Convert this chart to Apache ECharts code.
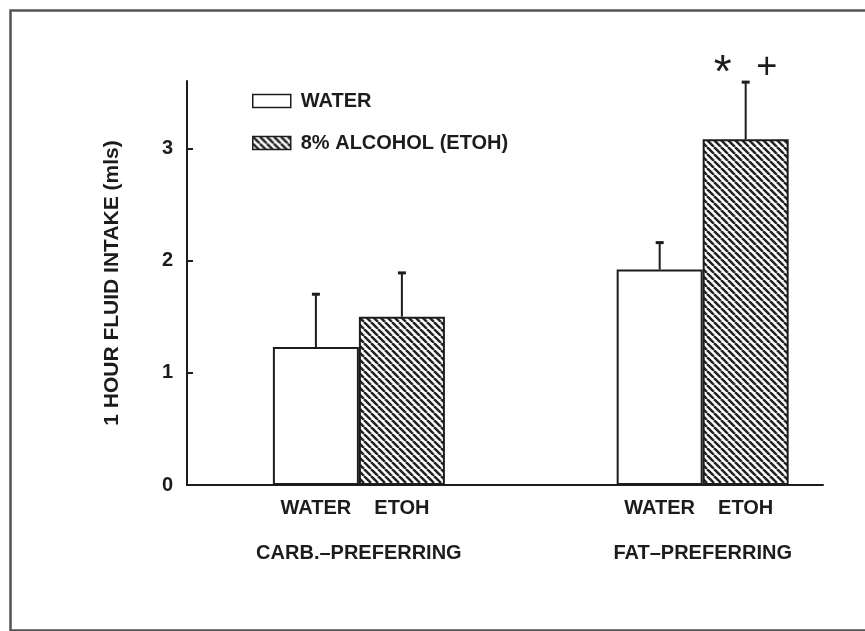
<!DOCTYPE html>
<html>
<head>
<meta charset="utf-8">
<script src="https://cdn.jsdelivr.net/npm/echarts@6/dist/echarts.min.js"></script>
<style>html,body{margin:0;padding:0;background:#fff;}#c{width:865px;height:631px;}</style>
</head>
<body>
<div id="c"></div>
<script>
// ---- data ----
const groups = ['CARB.\u2013PREFERRING', 'FAT\u2013PREFERRING'];
const groupPos = [1, 2];
const barLabels = ['WATER', 'ETOH'];
const seriesNames = ['WATER', '8% ALCOHOL (ETOH)'];
const waterMean = [1.23, 1.92];
const waterErrTop = [1.70, 2.16];
const etohMean = [1.50, 3.08];
const etohErrTop = [1.89, 3.59];
const etohMarks = [[], ['*', '+']];
const yTicks = [0, 1, 2, 3];

// ---- style ----
const FONT = '"Liberation Sans", Arial, sans-serif';
const INK = '#1c1c1c';
const BAR_W = 86;
const FW = 'bold';

function hatch() {
  const s = 7;
  const c = document.createElement('canvas');
  c.width = s; c.height = s;
  const g = c.getContext('2d');
  g.fillStyle = '#fff'; g.fillRect(0, 0, s, s);
  g.strokeStyle = '#222'; g.lineWidth = 2.5;
  for (const x0 of [-s, 0, s]) {
    g.beginPath(); g.moveTo(x0, 0); g.lineTo(x0 + s, s); g.stroke();
  }
  return c;
}

const chart = echarts.init(document.getElementById('c'), null, {renderer: 'canvas'});

function errSeries(means, tops, sign, marks) {
  return {
    type: 'custom',
    z: 5,
    data: groupPos.map((x, i) => [x, means[i], tops[i], i]),
    renderItem: function (params, api) {
      const x = api.value(0);
      const p0 = api.coord([x, api.value(1)]);
      const p1 = api.coord([x, api.value(2)]);
      const cx = p0[0] + sign * BAR_W / 2;
      const children = [
        {type: 'line', shape: {x1: cx, y1: p0[1], x2: cx, y2: p1[1]}, style: {stroke: INK, lineWidth: 2}},
        {type: 'line', shape: {x1: cx - 4, y1: p1[1], x2: cx + 4, y2: p1[1]}, style: {stroke: INK, lineWidth: 3}}
      ];
      const m = marks ? marks[api.value(3)] : [];
      if (m.length === 2) {
        children.push({type: 'text', style: {text: m[0], x: cx - 23, y: p1[1] - 8, align: 'center', verticalAlign: 'middle', fontSize: 46, fontFamily: FONT, fill: INK}});
        children.push({type: 'text', style: {text: m[1], x: cx + 21, y: p1[1] - 14, align: 'center', verticalAlign: 'middle', fontSize: 36, fontFamily: FONT, fill: INK}});
      }
      return {type: 'group', children: children};
    }
  };
}

const option = {
  animation: false,
  backgroundColor: '#fff',
  graphic: [{
    type: 'rect', left: 8, top: 8, silent: true,
    shape: {width: 900, height: 620},
    style: {fill: 'none', stroke: '#555', lineWidth: 2.5}
  }],
  grid: {left: 187, right: 42, top: 81, bottom: 146},
  legend: {
    data: seriesNames,
    orient: 'vertical', left: 252, top: 91, padding: 0,
    itemWidth: 38, itemHeight: 13, itemGap: 22,
    icon: 'rect',
    itemStyle: {borderColor: INK, borderWidth: 1.5},
    textStyle: {fontSize: 20, fontWeight: FW, fontFamily: FONT, color: INK, padding: [0, 0, 0, 5]}
  },
  xAxis: {
    type: 'value', min: 0.5, max: 2.35,
    axisLine: {show: true, lineStyle: {color: INK, width: 2}},
    axisTick: {show: false},
    splitLine: {show: false},
    axisLabel: {
      customValues: groupPos,
      formatter: v => groups[groupPos.indexOf(v)] || '',
      margin: 58, fontSize: 20, fontWeight: FW, fontFamily: FONT, color: INK
    }
  },
  yAxis: {
    type: 'value', min: 0, max: 3.6,
    name: '1 HOUR FLUID INTAKE (mls)',
    nameLocation: 'middle', nameGap: 64, nameRotate: 90,
    nameTextStyle: {fontSize: 21, fontWeight: FW, fontFamily: FONT, color: INK},
    axisLine: {show: true, lineStyle: {color: INK, width: 2}},
    axisTick: {show: true, inside: true, length: 6, customValues: yTicks, lineStyle: {color: INK, width: 2}},
    splitLine: {show: false},
    axisLabel: {customValues: yTicks, margin: 14, fontSize: 20, fontWeight: FW, fontFamily: FONT, color: INK}
  },
  series: [
    {
      name: seriesNames[0], type: 'bar', barWidth: BAR_W, barGap: '0%',
      data: groupPos.map((x, i) => [x, waterMean[i]]),
      itemStyle: {color: '#fff', borderColor: INK, borderWidth: 2},
      label: {show: true, position: 'bottom', distance: 13, formatter: barLabels[0], fontSize: 20, fontWeight: FW, fontFamily: FONT, color: INK}
    },
    {
      name: seriesNames[1], type: 'bar', barWidth: BAR_W, barGap: '0%',
      data: groupPos.map((x, i) => [x, etohMean[i]]),
      itemStyle: {color: {image: hatch(), repeat: 'repeat'}, borderColor: INK, borderWidth: 2},
      label: {show: true, position: 'bottom', distance: 13, formatter: barLabels[1], fontSize: 20, fontWeight: FW, fontFamily: FONT, color: INK}
    },
    errSeries(waterMean, waterErrTop, -1, null),
    errSeries(etohMean, etohErrTop, 1, etohMarks)
  ]
};
chart.setOption(option);
</script>
</body>
</html>
